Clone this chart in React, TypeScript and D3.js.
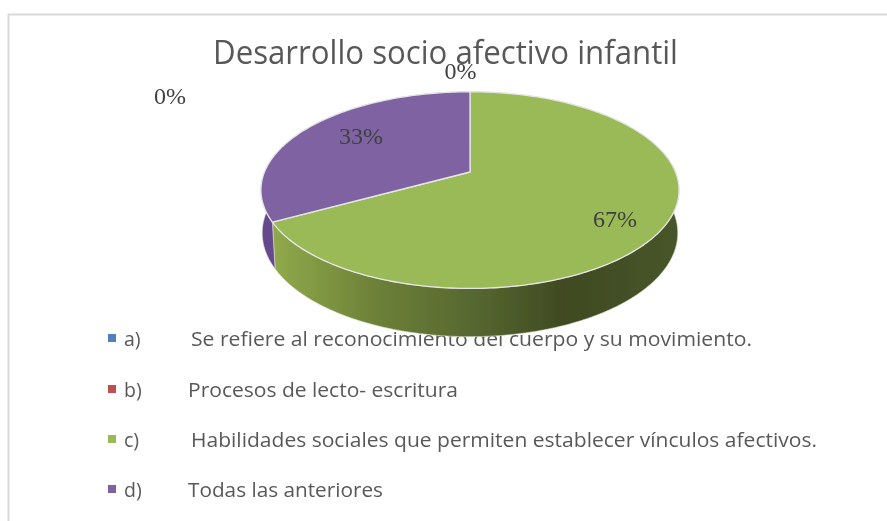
import React from "react";
import * as d3 from "d3";

const title = "Desarrollo socio afectivo infantil";
const categories = ["a)", "b)", "c)", "d)"];
const descriptions = [
  "Se refiere al reconocimiento del cuerpo y su movimiento.",
  "Procesos de lecto- escritura",
  "Habilidades sociales que permiten establecer vínculos afectivos.",
  "Todas las anteriores",
];
const values = [0, 0, 67, 33];
const percentLabels = ["0%", "0%", "67%", "33%"];
const colors = ["#4f81bd", "#c0504d", "#9aba58", "#7f62a1"];

// layout
const W = 887, H = 521;
const apex = { x: 470, y: 172 };
const topFace = { bx: 205.5, ay: 95, k: -0.184, dy: 0 };
const bottomFace = { bx: 205, ay: 101, k: -0.163, dy: 44 };
const labelPos = [
  { x: 170, y: 104 },
  { x: 460.5, y: 79 },
  { x: 615, y: 227 },
  { x: 361, y: 144 },
];
const legendX = { marker: 108, key: 124 };
const legendRows = [
  { y: 346, tx: 191, tw: 561 },
  { y: 397, tx: 188, tw: 270 },
  { y: 447, tx: 191, tw: 626 },
  { y: 497, tx: 188, tw: 195 },
];

type Face = typeof topFace;
const project = (a: number, face: Face): [number, number] => {
  const u = Math.sin(a), v = -Math.cos(a);
  const d = 1 + face.k * v;
  return [apex.x + (face.bx * u) / d, apex.y + face.dy + (face.ay * v) / d];
};
const arcAngles = (a0: number, a1: number) => {
  const n = Math.max(2, Math.ceil((a1 - a0) / (Math.PI / 180)));
  return d3.range(n + 1).map((i) => a0 + ((a1 - a0) * i) / n);
};
const line = d3.line<[number, number]>().x((d) => d[0]).y((d) => d[1]);

export default function App() {
  const slices = d3.pie<number>().sort(null).value((d) => d)(values);
  const drawn = slices.map((s, i) => ({ s, i })).filter((d) => d.s.endAngle > d.s.startAngle);
  const font = "'Open Sans','Noto Sans',sans-serif";
  return (
    <svg width={W} height={H} style={{ position: "absolute", left: 0, top: 0, background: "#fff" }}>
      <defs>
        <filter id="soft" x="-2%" y="-2%" width="104%" height="104%">
          <feGaussianBlur stdDeviation="0.45" />
        </filter>
        <linearGradient id="wallGreen" gradientUnits="userSpaceOnUse" x1={275} x2={675} y1={0} y2={0}>
          <stop offset="0" stopColor="#8fa94b" />
          <stop offset="0.25" stopColor="#6d8138" />
          <stop offset="0.5" stopColor="#566730" />
          <stop offset="0.72" stopColor="#3f4a22" />
          <stop offset="1" stopColor="#475529" />
        </linearGradient>
      </defs>
      <g filter="url(#soft)">
        <path d={`M8.5 ${H}V14.5H${W}`} fill="none" stroke="#d9d9d9" strokeWidth={2} />
        <text x={213} y={64} fontFamily={font} fontSize={33} fill="#595959" textLength={465} lengthAdjust="spacingAndGlyphs">
          {title}
        </text>
        {categories.map((c, i) => (
          <g key={c}>
            <rect x={legendX.marker} y={legendRows[i].y - 12} width={8} height={8} fill={colors[i]} />
            <text x={legendX.key} y={legendRows[i].y} fontFamily={font} fontSize={19.5} fill="#595959">{c}</text>
            <text x={legendRows[i].tx} y={legendRows[i].y} fontFamily={font} fontSize={19.5} fill="#595959"
              textLength={legendRows[i].tw} lengthAdjust="spacingAndGlyphs">
              {descriptions[i]}
            </text>
          </g>
        ))}
        {drawn.map(({ s, i }) => {
          const as = arcAngles(s.startAngle, s.endAngle);
          const pts = [...as.map((a) => project(a, topFace)), ...as.slice().reverse().map((a) => project(a, bottomFace))];
          return (
            <path key={"wall" + i} d={line(pts) + "Z"}
              fill={i === 2 ? "url(#wallGreen)" : "#66498c"} stroke="#dfe3d2" strokeWidth={0.6} />
          );
        })}
        {drawn.map(({ s, i }) => {
          const as = arcAngles(s.startAngle, s.endAngle);
          const pts: [number, number][] = [[apex.x, apex.y], ...as.map((a) => project(a, topFace))];
          return <path key={"top" + i} d={line(pts) + "Z"} fill={colors[i]} stroke="#e6e6e6" strokeWidth={1.3} strokeLinejoin="round" />;
        })}
        {percentLabels.map((t, i) => (
          <text key={i} x={labelPos[i].x} y={labelPos[i].y} textAnchor="middle"
            fontFamily="'Liberation Serif',serif" fontSize={24} fill="#404040">{t}</text>
        ))}
      </g>
    </svg>
  );
}
